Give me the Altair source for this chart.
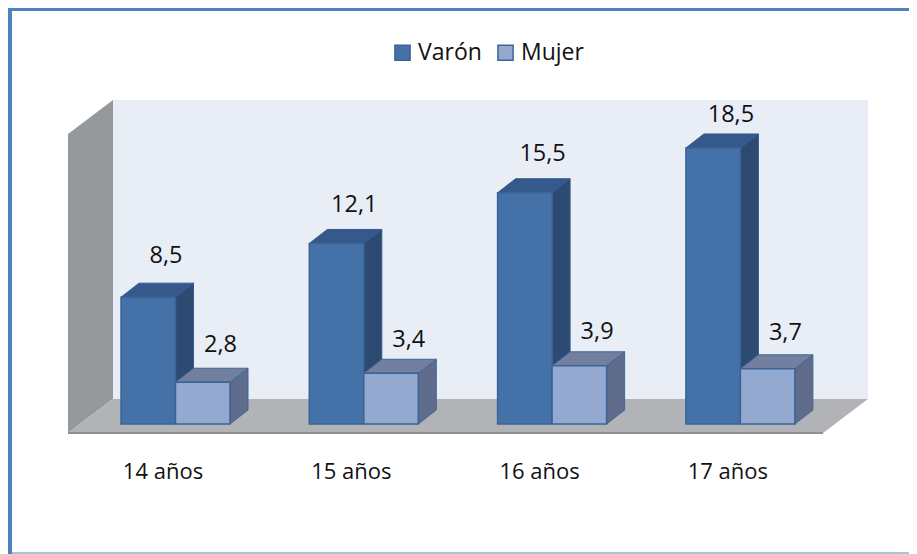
import altair as alt
import pandas as pd

categorias = ["14 años", "15 años", "16 años", "17 años"]
varon = [8.5, 12.1, 15.5, 18.5]
mujer = [2.8, 3.4, 3.9, 3.7]
etiquetas_varon = ["8,5", "12,1", "15,5", "18,5"]
etiquetas_mujer = ["2,8", "3,4", "3,9", "3,7"]

# layout (pixels of the whole chart)
W, H = 901, 546
PX_CAT = 188.3        # pixels per category
PX_VAL = 14.92        # pixels per value unit
X0_PX, Y0_PX = 113, 416   # left edge of first bar, y of value 0
BAR = 54.5 / PX_CAT
DX, DY = 18 / PX_CAT, 14 / PX_VAL        # bar depth
FDX, FDY = 45 / PX_CAT, 34 / PX_VAL      # floor depth
FONT = "Open Sans"
FS_VAL = 23.5
FS_CAT = 22
FS_LEG = 23

x_scale = alt.Scale(domain=[-X0_PX / PX_CAT, (W - X0_PX) / PX_CAT], range=[0, W], nice=False, zero=False)
y_scale = alt.Scale(domain=[(Y0_PX - H) / PX_VAL, Y0_PX / PX_VAL], range=[H, 0], nice=False, zero=False)
X = alt.X("x:Q", scale=x_scale, axis=None)
Y = alt.Y("y:Q", scale=y_scale, axis=None)


def bars(values, offset, name):
    rows = []
    for i, (c, v) in enumerate(zip(categorias, values)):
        rows.append(dict(grupo=c, serie=name, v=v, xl=i + offset, xr=i + offset + BAR))
    return rows


def side_rows(rows):
    out = []
    for r in rows:
        out.append(dict(k=r["grupo"], x=r["xr"], y=r["v"], y2=0))
        out.append(dict(k=r["grupo"], x=r["xr"] + DX, y=r["v"] + DY, y2=DY))
    return pd.DataFrame(out)


def top_rows(rows):
    out = []
    for r in rows:
        out.append(dict(k=r["grupo"], y=r["v"], x=r["xl"], x2=r["xr"]))
        out.append(dict(k=r["grupo"], y=r["v"] + DY, x=r["xl"] + DX, x2=r["xr"] + DX))
    return pd.DataFrame(out)


dv = bars(varon, 0, "Varón")
dm = bars(mujer, BAR, "Mujer")

layers = []

# frame
for x0, x1, y0, y1, col in [
    (0, W, 0, 3, "#4F81BD"),
    (0, 4, 0, H, "#4F81BD"),
    (4, W, H - 2, H, "#A9C3DC"),
]:
    layers.append(
        alt.Chart(pd.DataFrame({"a": [0]})).mark_rect(color=col).encode(
            x=alt.value(x0), x2=alt.value(x1), y=alt.value(y0), y2=alt.value(y1)
        )
    )

# walls and floor
XB0 = (105 - X0_PX) / PX_CAT
XB1 = (860 - X0_PX) / PX_CAT
YFB = (Y0_PX - 391) / PX_VAL
YTOP = (Y0_PX - 92) / PX_VAL

back = pd.DataFrame({"x": [XB0, XB1], "y": [YTOP, YTOP], "y2": [YFB, YFB]})
layers.append(alt.Chart(back).mark_area(color="#E9EDF6").encode(x=X, y=Y, y2="y2:Q"))

left = pd.DataFrame({"x": [XB0 - FDX, XB0], "y": [YTOP - FDY, YTOP], "y2": [YFB - FDY, YFB]})
layers.append(alt.Chart(left).mark_area(color="#96999C").encode(x=X, y=Y, y2="y2:Q"))

floor = pd.DataFrame({"y": [YFB - FDY, YFB], "x": [XB0 - FDX, XB0], "x2": [XB1 - FDX, XB1]})
layers.append(alt.Chart(floor).mark_area(color="#B1B3B6", orient="horizontal").encode(x=X, x2="x2:Q", y=Y))
front_edge = pd.DataFrame({"x": [XB0 - FDX], "x2": [XB1 - FDX], "y": [YFB - FDY]})
layers.append(alt.Chart(front_edge).mark_rule(color="#8E9092", strokeWidth=2).encode(x=X, x2="x2:Q", y=Y))

# 3D faces
for rows, side, top, edge in [
    (dv, "#2C4A72", "#34598A", "#34598A"),
    (dm, "#5F6C8B", "#727F9F", "#3F6797"),
]:
    layers.append(
        alt.Chart(side_rows(rows)).mark_area(color=side, stroke=edge, strokeWidth=1).encode(
            x=X, y=Y, y2="y2:Q", detail="k:N"
        )
    )
    layers.append(
        alt.Chart(top_rows(rows)).mark_area(color=top, stroke=edge, strokeWidth=1, orient="horizontal").encode(
            x=X, x2="x2:Q", y=Y, detail="k:N"
        )
    )

fronts = pd.DataFrame(dv + dm)
fronts["y0"] = 0
layers.append(
    alt.Chart(fronts).mark_rect(strokeWidth=1.5, stroke="#3A6497").encode(
        x=alt.X("xl:Q", scale=x_scale, axis=None),
        x2="xr:Q",
        y=alt.Y("v:Q", scale=y_scale, axis=None),
        y2="y0:Q",
        color=alt.Color(
            "serie:N",
            sort=["Varón", "Mujer"],
            scale=alt.Scale(domain=["Varón", "Mujer"], range=["#4472A8", "#94A9D0"]),
            legend=alt.Legend(
                title=None,
                orient="none",
                legendX=383,
                legendY=33,
                direction="horizontal",
                symbolType="square",
                symbolSize=230,
                symbolStrokeWidth=1.5,
                symbolStrokeColor="#3A6497",
                symbolOpacity=1,
                labelFont=FONT,
                labelFontSize=FS_LEG,
                labelColor="#111111",
                labelOffset=4,
                columnPadding=12,
                labelLimit=200,
            ),
        ),
    )
)

# value labels
lab_rows = []
for rows, labs, gaps in [(dv, etiquetas_varon, [27, 24, 25, 19]), (dm, etiquetas_mujer, [23, 19, 20, 22])]:
    for r, t, g in zip(rows, labs, gaps):
        lab_rows.append(dict(x=r["xl"] + 45 / PX_CAT, y=r["v"] + DY + g / PX_VAL, t=t))
layers.append(
    alt.Chart(pd.DataFrame(lab_rows)).mark_text(font=FONT, fontSize=FS_VAL, color="#111111", baseline="middle").encode(
        x=X, y=Y, text="t:N"
    )
)

# category labels
cat_df = pd.DataFrame({"x": [i + 42 / PX_CAT for i in range(4)], "y": [(Y0_PX - 464) / PX_VAL] * 4, "t": categorias})
layers.append(
    alt.Chart(cat_df).mark_text(font=FONT, fontSize=FS_CAT, color="#111111", baseline="middle").encode(
        x=X, y=Y, text="t:N"
    )
)

chart = (
    alt.layer(*layers)
    .properties(width=W, height=H, padding=0, background="white", autosize=alt.AutoSizeParams(type="none"))
    .configure_view(stroke=None)
)
chart.save("out.html", embed_options={"renderer": "svg", "actions": False})
